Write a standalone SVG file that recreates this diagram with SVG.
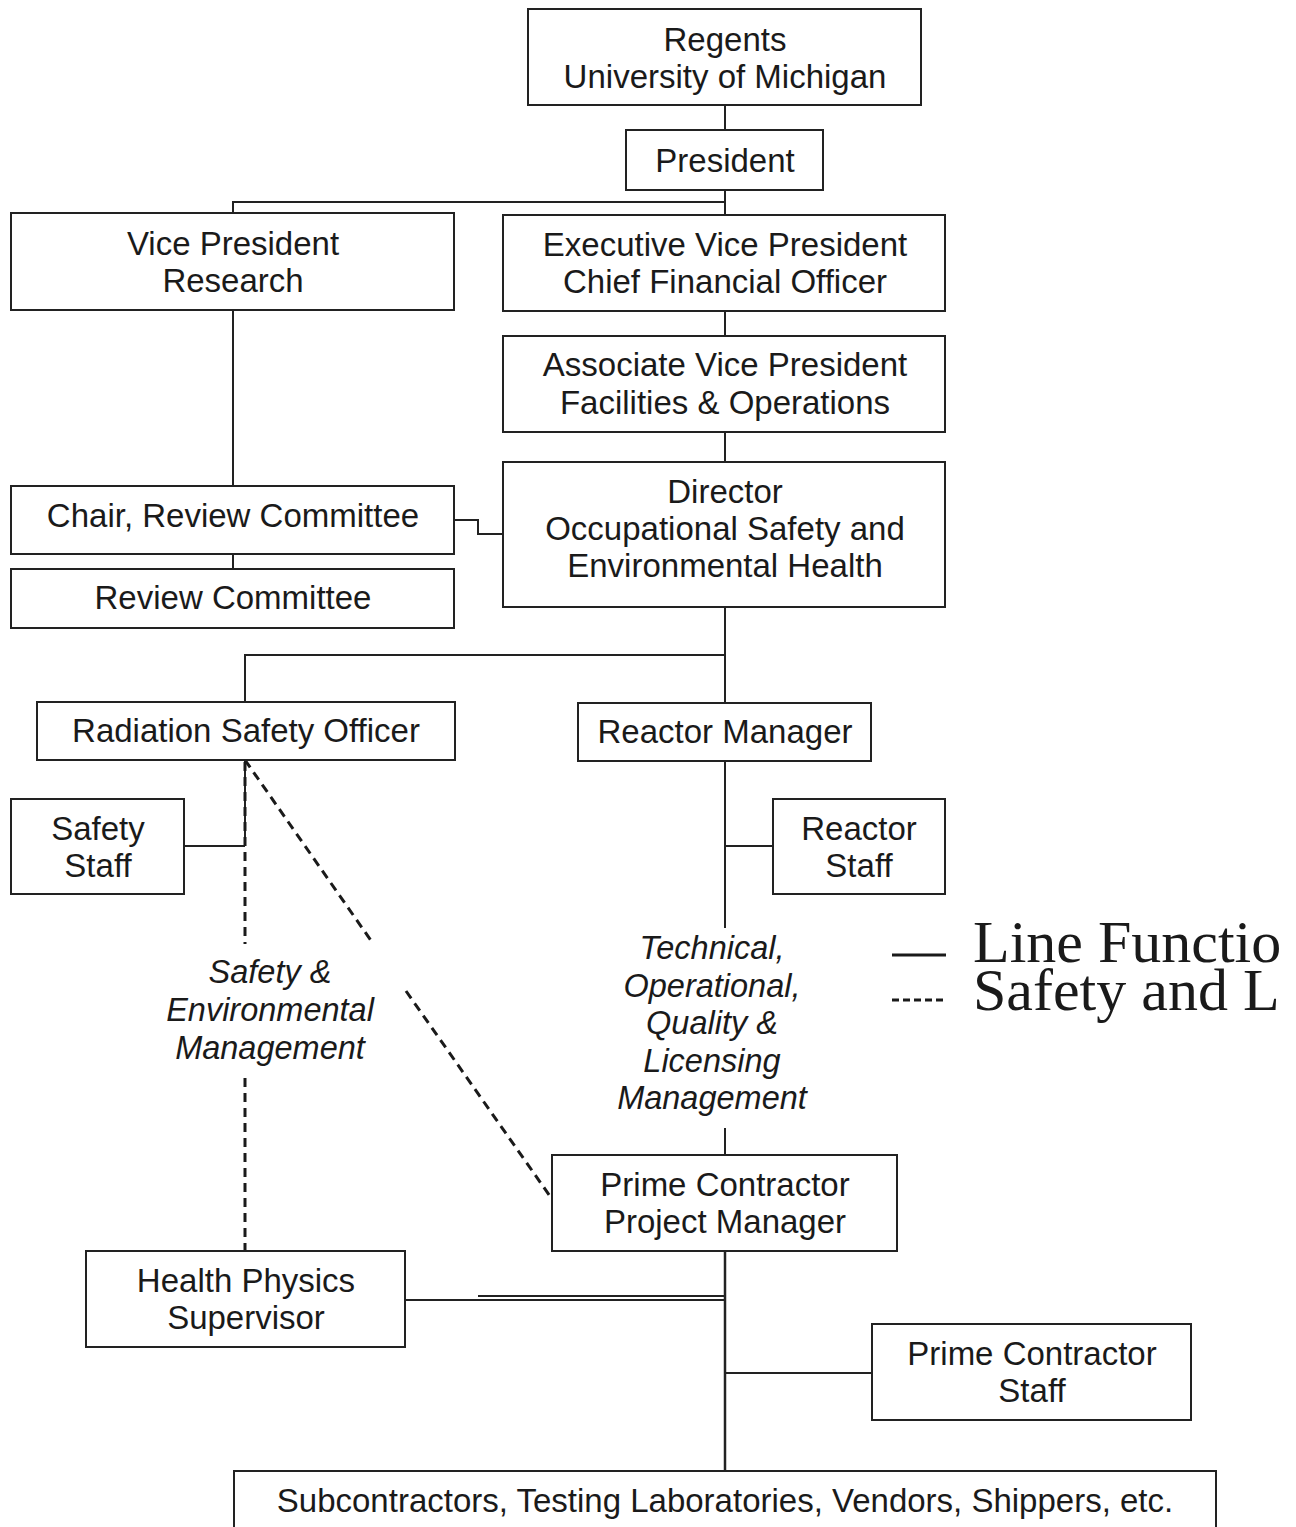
<svg xmlns="http://www.w3.org/2000/svg" width="1296" height="1527" viewBox="0 0 1296 1527">
<style>
.b{fill:#fff;stroke:#222;stroke-width:2}
.t{font-family:"Liberation Sans",Arial,sans-serif;font-size:33px;fill:#1a1a1a;text-anchor:middle}
.i{font-family:"Liberation Sans",Arial,sans-serif;font-size:32.5px;font-style:italic;fill:#1a1a1a;text-anchor:middle}
.c{fill:none;stroke:#222;stroke-width:2}
.d{fill:none;stroke:#1a1a1a;stroke-width:3;stroke-dasharray:9 6}
.lg{font-family:"Liberation Serif","Times New Roman",serif;font-size:60px;fill:#1a1a1a}
</style>
<rect width="1296" height="1527" fill="#fff"/>
<g id="connectors">
<path class="c" d="M725 105V130M725 190V215M725 202H233V213M725 311V336M725 432V462M233 310V486M233 554V569M454 520H478V534H503"/>
<path class="c" d="M725 607V703M725 655H245V702M245 760V846M184 846H245"/>
<path class="c" d="M725 761V928M725 846H773M725 1128V1155"/>
<path class="c" d="M725 1251V1471" style="stroke-width:2.5"/>
<path class="c" d="M478 1296H725M405 1300H725M725 1373H872"/>
<path class="d" d="M245 762V944M245 1078V1251"/>
<path class="d" d="M245 760L372 942M406 991L552 1199"/>
</g>
<g id="regents"><rect class="b" x="528" y="9" width="393" height="96"/><text class="t" x="725" y="51">Regents</text><text class="t" x="725" y="88">University of Michigan</text></g>
<g id="president"><rect class="b" x="626" y="130" width="197" height="60"/><text class="t" x="725" y="172">President</text></g>
<g id="vp-research"><rect class="b" x="11" y="213" width="443" height="97"/><text class="t" x="233" y="255">Vice President</text><text class="t" x="233" y="292">Research</text></g>
<g id="evp-cfo"><rect class="b" x="503" y="215" width="442" height="96"/><text class="t" x="725" y="256">Executive Vice President</text><text class="t" x="725" y="293">Chief Financial Officer</text></g>
<g id="avp-facilities"><rect class="b" x="503" y="336" width="442" height="96"/><text class="t" x="725" y="376">Associate Vice President</text><text class="t" x="725" y="414">Facilities &amp; Operations</text></g>
<g id="director-oseh"><rect class="b" x="503" y="462" width="442" height="145"/><text class="t" x="725" y="503">Director</text><text class="t" x="725" y="540">Occupational Safety and</text><text class="t" x="725" y="577">Environmental Health</text></g>
<g id="chair-review"><rect class="b" x="11" y="486" width="443" height="68"/><text class="t" x="233" y="527">Chair, Review Committee</text></g>
<g id="review-committee"><rect class="b" x="11" y="569" width="443" height="59"/><text class="t" x="233" y="609">Review Committee</text></g>
<g id="rso"><rect class="b" x="37" y="702" width="418" height="58"/><text class="t" x="246" y="742">Radiation Safety Officer</text></g>
<g id="reactor-manager"><rect class="b" x="578" y="703" width="293" height="58"/><text class="t" x="725" y="743">Reactor Manager</text></g>
<g id="safety-staff"><rect class="b" x="11" y="799" width="173" height="95"/><text class="t" x="98" y="840">Safety</text><text class="t" x="98" y="877">Staff</text></g>
<g id="reactor-staff"><rect class="b" x="773" y="799" width="172" height="95"/><text class="t" x="859" y="840">Reactor</text><text class="t" x="859" y="877">Staff</text></g>
<g id="label-safety"><text class="i" x="270" y="983">Safety &amp;</text><text class="i" x="270" y="1021">Environmental</text><text class="i" x="270" y="1059">Management</text></g>
<g id="label-technical"><text class="i" x="712" y="959">Technical,</text><text class="i" x="712" y="997">Operational,</text><text class="i" x="712" y="1034">Quality &amp;</text><text class="i" x="712" y="1072">Licensing</text><text class="i" x="712" y="1109">Management</text></g>
<g id="pc-pm"><rect class="b" x="552" y="1155" width="345" height="96"/><text class="t" x="725" y="1196">Prime Contractor</text><text class="t" x="725" y="1233">Project Manager</text></g>
<g id="hp-supervisor"><rect class="b" x="86" y="1251" width="319" height="96"/><text class="t" x="246" y="1292">Health Physics</text><text class="t" x="246" y="1329">Supervisor</text></g>
<g id="pc-staff"><rect class="b" x="872" y="1324" width="319" height="96"/><text class="t" x="1032" y="1365">Prime Contractor</text><text class="t" x="1032" y="1402">Staff</text></g>
<g id="subcontractors"><rect class="b" x="234" y="1471" width="982" height="70"/><text class="t" x="725" y="1512">Subcontractors, Testing Laboratories, Vendors, Shippers, etc.</text></g>
<g id="legend">
<line x1="892" y1="955" x2="946" y2="955" stroke="#1a1a1a" stroke-width="3"/>
<line x1="892" y1="1000" x2="946" y2="1000" stroke="#1a1a1a" stroke-width="3" stroke-dasharray="7 4"/>
<text class="lg" x="973" y="962">Line Functio</text>
<text class="lg" x="973" y="1010">Safety and L</text>
</g>
</svg>
